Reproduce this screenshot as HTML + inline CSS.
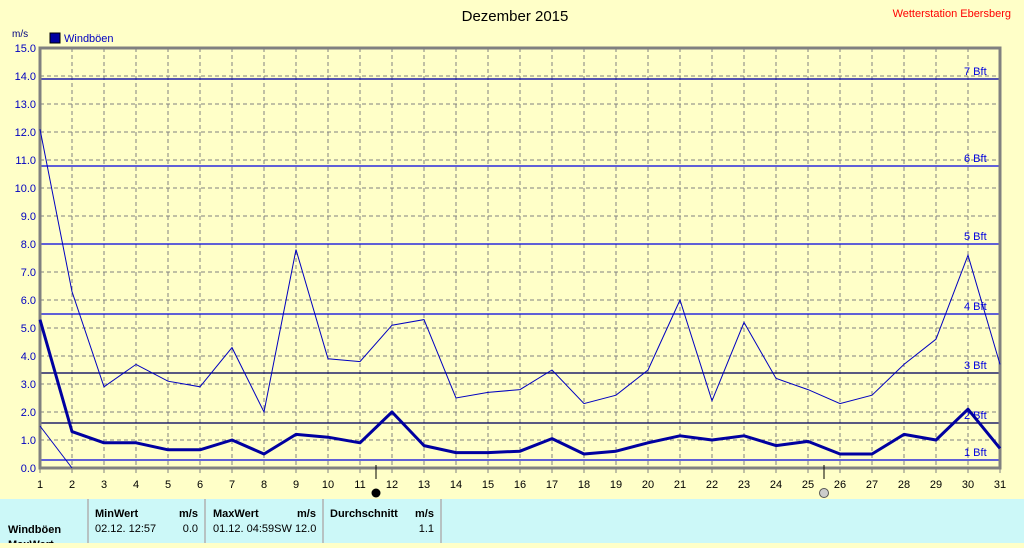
<!DOCTYPE html>
<html><head><meta charset="utf-8"><style>
body{margin:0;width:1024px;height:543px;overflow:hidden;background:#ffffc8;font-family:"Liberation Sans",sans-serif}
</style></head><body>
<svg width="1024" height="543" xmlns="http://www.w3.org/2000/svg" font-family="Liberation Sans, sans-serif">
<rect width="1024" height="543" fill="#ffffc8"/>
<text x="515" y="21" font-size="15" text-anchor="middle" fill="#000">Dezember 2015</text>
<text x="1011" y="17" font-size="11" text-anchor="end" fill="#ff0000">Wetterstation Ebersberg</text>
<text x="12" y="37" font-size="10" fill="#000080">m/s</text>
<rect x="50" y="33" width="10" height="10" fill="#0000a0" stroke="#000" stroke-width="1"/>
<text x="64" y="42" font-size="11" fill="#0000c0">Windböen</text>
<g stroke="#808080" stroke-dasharray="4,3" stroke-width="1">
<path id="vg" d="M72 48V468M104 48V468M136 48V468M168 48V468M200 48V468M232 48V468M264 48V468M296 48V468M328 48V468M360 48V468M392 48V468M424 48V468M456 48V468M488 48V468M520 48V468M552 48V468M584 48V468M616 48V468M648 48V468M680 48V468M712 48V468M744 48V468M776 48V468M808 48V468M840 48V468M872 48V468M904 48V468M936 48V468M968 48V468"/>
<path d="M40 76H1000M40 104H1000M40 132H1000M40 160H1000M40 188H1000M40 216H1000M40 244H1000M40 272H1000M40 300H1000M40 328H1000M40 356H1000M40 384H1000M40 412H1000M40 440H1000"/>
</g>
<g stroke="#0000e0" stroke-width="1.2">
<path d="M40 79H1000M40 166H1000M40 244H1000M40 314H1000M40 460H1000"/>
<path d="M40 373H1000M40 423H1000" stroke="#101060"/>
</g>
<g stroke="#000060" stroke-width="1.2"><path d="M40 79H1000M40 373H1000M40 423H1000" stroke-opacity="0.5"/></g>
<g font-size="11" fill="#0000e0">
<text x="964" y="75">7 Bft</text><text x="964" y="162">6 Bft</text><text x="964" y="240">5 Bft</text><text x="964" y="310">4 Bft</text><text x="964" y="369">3 Bft</text><text x="964" y="419">2 Bft</text><text x="964" y="456">1 Bft</text>
</g>
<rect x="40" y="48" width="960" height="420" fill="none" stroke="#808080" stroke-width="3"/>
<g font-size="11" fill="#0000c0" text-anchor="end">
<text x="36" y="52">15.0</text><text x="36" y="80">14.0</text><text x="36" y="108">13.0</text><text x="36" y="136">12.0</text><text x="36" y="164">11.0</text><text x="36" y="192">10.0</text><text x="36" y="220">9.0</text><text x="36" y="248">8.0</text><text x="36" y="276">7.0</text><text x="36" y="304">6.0</text><text x="36" y="332">5.0</text><text x="36" y="360">4.0</text><text x="36" y="388">3.0</text><text x="36" y="416">2.0</text><text x="36" y="444">1.0</text><text x="36" y="472">0.0</text>
</g>
<g stroke="#808080" stroke-width="1"><path d="M40 468v5M72 468v5M104 468v5M136 468v5M168 468v5M200 468v5M232 468v5M264 468v5M296 468v5M328 468v5M360 468v5M392 468v5M424 468v5M456 468v5M488 468v5M520 468v5M552 468v5M584 468v5M616 468v5M648 468v5M680 468v5M712 468v5M744 468v5M776 468v5M808 468v5M840 468v5M872 468v5M904 468v5M936 468v5M968 468v5M1000 468v5"/></g>
<g font-size="11" fill="#000" text-anchor="middle">
<text x="40" y="488">1</text><text x="72" y="488">2</text><text x="104" y="488">3</text><text x="136" y="488">4</text><text x="168" y="488">5</text><text x="200" y="488">6</text><text x="232" y="488">7</text><text x="264" y="488">8</text><text x="296" y="488">9</text><text x="328" y="488">10</text><text x="360" y="488">11</text><text x="392" y="488">12</text><text x="424" y="488">13</text><text x="456" y="488">14</text><text x="488" y="488">15</text><text x="520" y="488">16</text><text x="552" y="488">17</text><text x="584" y="488">18</text><text x="616" y="488">19</text><text x="648" y="488">20</text><text x="680" y="488">21</text><text x="712" y="488">22</text><text x="744" y="488">23</text><text x="776" y="488">24</text><text x="808" y="488">25</text><text x="840" y="488">26</text><text x="872" y="488">27</text><text x="904" y="488">28</text><text x="936" y="488">29</text><text x="968" y="488">30</text><text x="1000" y="488">31</text>
</g>
<path d="M376 465v14M824 465v14" stroke="#000" stroke-width="1"/>
<circle cx="376" cy="493" r="4.5" fill="#000"/>
<circle cx="824" cy="493" r="4.5" fill="#ccc" stroke="#555"/>
<polyline fill="none" stroke="#0000c0" stroke-width="1" points="40,129.2 72,291.6 104,386.8 136,364.4 168,381.2 200,386.8 232,347.6 264,412 296,249.6 328,358.8 360,361.6 392,325.2 424,319.6 456,398 488,392.4 520,389.6 552,370 584,403.6 616,395.2 648,370 680,300 712,400.8 744,322.4 776,378.4 808,389.6 840,403.6 872,395.2 904,364.4 936,339.2 968,255.2 1000,364.4"/>
<polyline fill="none" stroke="#0000c0" stroke-width="1" points="40,426 72,468"/>
<polyline fill="none" stroke="#0000a0" stroke-width="3" stroke-linejoin="round" points="40,319.6 72,431.6 104,442.8 136,442.8 168,449.8 200,449.8 232,440 264,454 296,434.4 328,437.2 360,442.8 392,412 424,445.6 456,452.6 488,452.6 520,451.2 552,438.6 584,454 616,451.2 648,442.8 680,435.8 712,440 744,435.8 776,445.6 808,441.4 840,454 872,454 904,434.4 936,440 968,409.2 1000,448.4"/>
<rect x="0" y="499" width="1024" height="44" fill="#ccf8f8"/>
<g stroke="#b0b0b0" stroke-width="1.5"><path d="M88 499v44M205 499v44M323 499v44M441 499v44"/></g>
<g font-size="11" fill="#000">
<text x="95" y="517" font-weight="bold">MinWert</text><text x="198" y="517" text-anchor="end" font-weight="bold">m/s</text>
<text x="213" y="517" font-weight="bold">MaxWert</text><text x="316" y="517" text-anchor="end" font-weight="bold">m/s</text>
<text x="330" y="517" font-weight="bold">Durchschnitt</text><text x="434" y="517" text-anchor="end" font-weight="bold">m/s</text>
<text x="8" y="533" font-weight="bold">Windböen</text>
<text x="95" y="532">02.12.  12:57</text><text x="198" y="532" text-anchor="end">0.0</text>
<text x="213" y="532">01.12.  04:59SW 12.0</text>
<text x="434" y="532" text-anchor="end">1.1</text>
<text x="8" y="548" font-weight="bold">MaxWert</text>
</g>
</svg>
</body></html>
